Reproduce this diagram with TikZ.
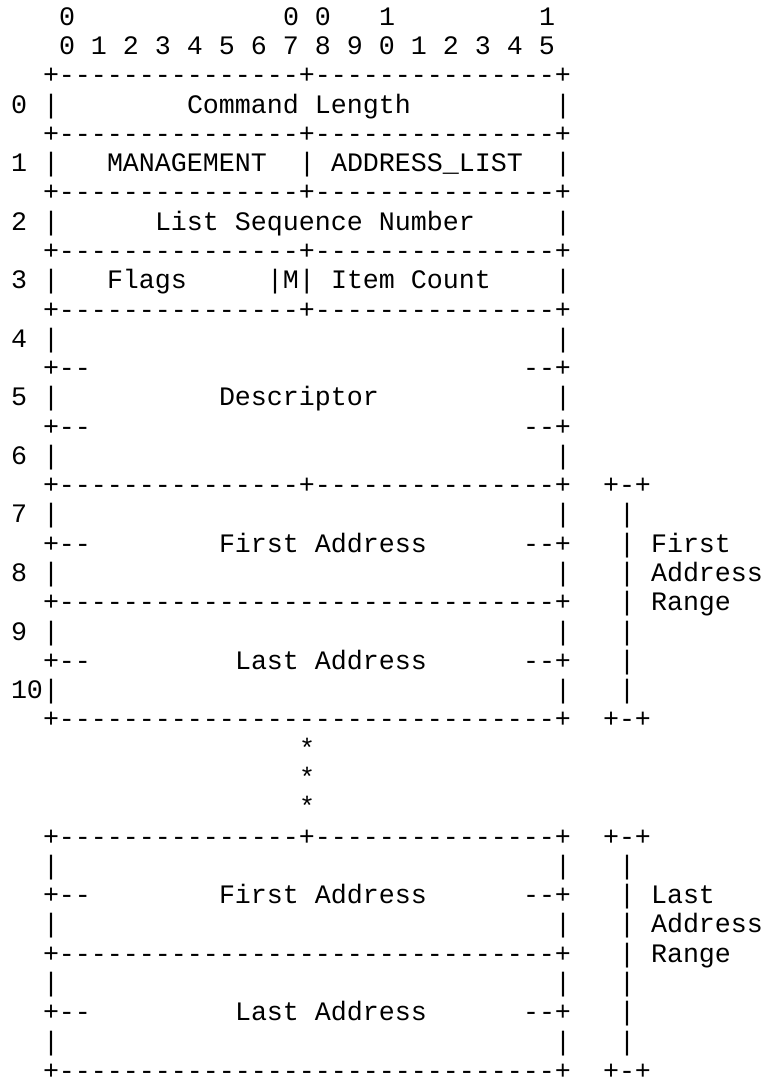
\documentclass[tikz,border=0pt]{standalone}
\usepackage{fontspec}
\setmonofont{Liberation Mono}
\tikzset{
  txt/.style={anchor=base west, inner sep=0pt, outer sep=0pt,
    font=\ttfamily\fontsize{13.33pt}{16pt}\selectfont, text=black}
}
% line, column, text
\newcommand\seg[3]{\node[txt] (n#1c#2) at ({11+16*#2},{25.2+29.28*(#1-1)}) {#3};}
\newcommand\sepline{+---------------+---------------+}
\newcommand\fullline{+-------------------------------+}
\begin{document}
\begin{tikzpicture}[x=0.5pt,y=-0.5pt]
\path[use as bounding box] (0,0) rectangle (765,1081);
% header
\seg{1}{3}{0}\seg{1}{17}{0 0}\seg{1}{23}{1}\seg{1}{33}{1}
\seg{2}{3}{0 1 2 3 4 5 6 7 8 9 0 1 2 3 4 5}
% row 0
\seg{3}{2}{\sepline}
\seg{4}{0}{0}\seg{4}{2}{|}\seg{4}{11}{Command Length}\seg{4}{34}{|}
\seg{5}{2}{\sepline}
% row 1
\seg{6}{0}{1}\seg{6}{2}{|}\seg{6}{6}{MANAGEMENT}\seg{6}{18}{|}\seg{6}{20}{ADDRESS\_LIST}\seg{6}{34}{|}
\seg{7}{2}{\sepline}
% row 2
\seg{8}{0}{2}\seg{8}{2}{|}\seg{8}{9}{List Sequence Number}\seg{8}{34}{|}
\seg{9}{2}{\sepline}
% row 3
\seg{10}{0}{3}\seg{10}{2}{|}\seg{10}{6}{Flags}\seg{10}{16}{|M|}\seg{10}{20}{Item Count}\seg{10}{34}{|}
\seg{11}{2}{\sepline}
% rows 4-6
\seg{12}{0}{4}\seg{12}{2}{|}\seg{12}{34}{|}
\seg{13}{2}{+--}\seg{13}{32}{--+}
\seg{14}{0}{5}\seg{14}{2}{|}\seg{14}{13}{Descriptor}\seg{14}{34}{|}
\seg{15}{2}{+--}\seg{15}{32}{--+}
\seg{16}{0}{6}\seg{16}{2}{|}\seg{16}{34}{|}
% first range
\seg{17}{2}{\sepline}\seg{17}{37}{+-+}
\seg{18}{0}{7}\seg{18}{2}{|}\seg{18}{34}{|}\seg{18}{38}{|}
\seg{19}{2}{+--}\seg{19}{13}{First Address}\seg{19}{32}{--+}\seg{19}{38}{|}\seg{19}{40}{First}
\seg{20}{0}{8}\seg{20}{2}{|}\seg{20}{34}{|}\seg{20}{38}{|}\seg{20}{40}{Address}
\seg{21}{2}{\fullline}\seg{21}{38}{|}\seg{21}{40}{Range}
\seg{22}{0}{9}\seg{22}{2}{|}\seg{22}{34}{|}\seg{22}{38}{|}
\seg{23}{2}{+--}\seg{23}{14}{Last Address}\seg{23}{32}{--+}\seg{23}{38}{|}
\seg{24}{0}{10}\seg{24}{2}{|}\seg{24}{34}{|}\seg{24}{38}{|}
\seg{25}{2}{\fullline}\seg{25}{37}{+-+}
% ellipsis
\seg{26}{18}{*}
\seg{27}{18}{*}
\seg{28}{18}{*}
% last range
\seg{29}{2}{\sepline}\seg{29}{37}{+-+}
\seg{30}{2}{|}\seg{30}{34}{|}\seg{30}{38}{|}
\seg{31}{2}{+--}\seg{31}{13}{First Address}\seg{31}{32}{--+}\seg{31}{38}{|}\seg{31}{40}{Last}
\seg{32}{2}{|}\seg{32}{34}{|}\seg{32}{38}{|}\seg{32}{40}{Address}
\seg{33}{2}{\fullline}\seg{33}{38}{|}\seg{33}{40}{Range}
\seg{34}{2}{|}\seg{34}{34}{|}\seg{34}{38}{|}
\seg{35}{2}{+--}\seg{35}{14}{Last Address}\seg{35}{32}{--+}\seg{35}{38}{|}
\seg{36}{2}{|}\seg{36}{34}{|}\seg{36}{38}{|}
\seg{37}{2}{\fullline}\seg{37}{37}{+-+}
\end{tikzpicture}
\end{document}
